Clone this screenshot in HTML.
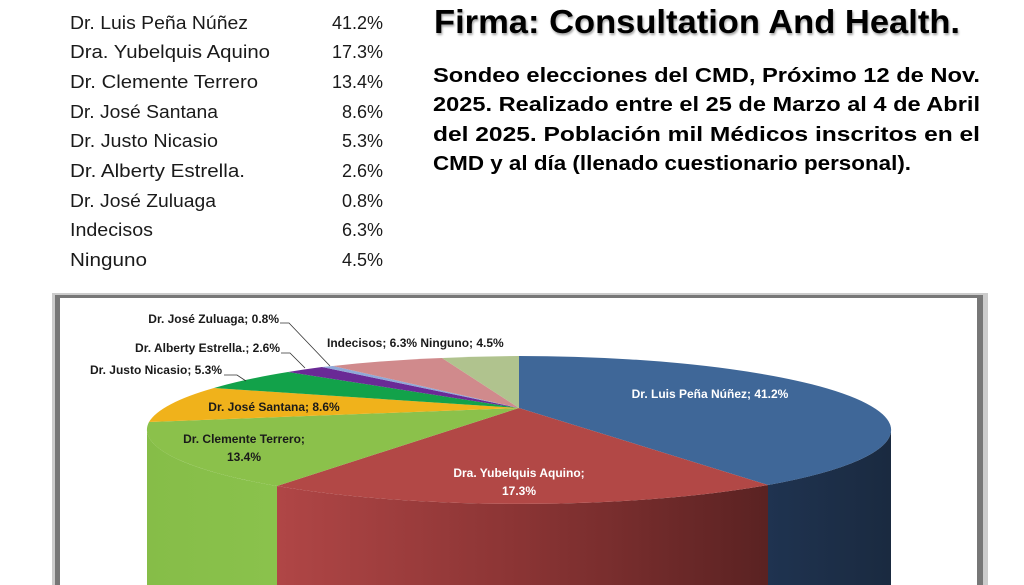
<!DOCTYPE html>
<html><head><meta charset="utf-8"><style>
html,body{margin:0;padding:0;background:#fff;width:1024px;height:585px;overflow:hidden;}
svg{display:block;overflow:hidden;}
text{font-family:"Liberation Sans",sans-serif;}
</style></head><body>
<svg width="1024" height="585" viewBox="0 0 1024 585" xmlns="http://www.w3.org/2000/svg">
<defs>
<clipPath id="cp"><rect x="0" y="0" width="1024" height="585"/></clipPath>
<linearGradient id="rg" x1="0" x2="1" y1="0" y2="0"><stop offset="0" stop-color="#b04646"/><stop offset="0.5" stop-color="#8a3434"/><stop offset="1" stop-color="#5a2222"/></linearGradient>
<linearGradient id="bg" x1="0" x2="1"><stop offset="0" stop-color="#1f3350"/><stop offset="1" stop-color="#1a2a40"/></linearGradient>
<linearGradient id="gg" x1="0" x2="1"><stop offset="0" stop-color="#86bd48"/><stop offset="1" stop-color="#8ac24c"/></linearGradient>
</defs>
<g font-size="18" fill="#1a1a1a">
<text x="70" y="29" textLength="178" lengthAdjust="spacingAndGlyphs">Dr. Luis Peña Núñez</text>
<text x="70" y="58" textLength="200" lengthAdjust="spacingAndGlyphs">Dra. Yubelquis Aquino</text>
<text x="70" y="88" textLength="188" lengthAdjust="spacingAndGlyphs">Dr. Clemente Terrero</text>
<text x="70" y="118" textLength="148" lengthAdjust="spacingAndGlyphs">Dr. José Santana</text>
<text x="70" y="147" textLength="148" lengthAdjust="spacingAndGlyphs">Dr. Justo Nicasio</text>
<text x="70" y="177" textLength="175" lengthAdjust="spacingAndGlyphs">Dr. Alberty Estrella.</text>
<text x="70" y="207" textLength="146" lengthAdjust="spacingAndGlyphs">Dr. José Zuluaga</text>
<text x="70" y="236" textLength="83" lengthAdjust="spacingAndGlyphs">Indecisos</text>
<text x="70" y="266" textLength="77" lengthAdjust="spacingAndGlyphs">Ninguno</text>
<g text-anchor="end">
<text x="383" y="29">41.2%</text><text x="383" y="58">17.3%</text><text x="383" y="88">13.4%</text>
<text x="383" y="118">8.6%</text><text x="383" y="147">5.3%</text><text x="383" y="177">2.6%</text>
<text x="383" y="207">0.8%</text><text x="383" y="236">6.3%</text><text x="383" y="266">4.5%</text>
</g></g>
<text x="434" y="33" font-size="33" font-weight="bold" fill="#000" textLength="526" lengthAdjust="spacingAndGlyphs" style="filter:drop-shadow(1px 2px 1px rgba(0,0,0,0.35))">Firma: Consultation And Health.</text>
<g font-size="20" font-weight="bold" fill="#000">
<text x="433" y="82" textLength="547" lengthAdjust="spacingAndGlyphs">Sondeo elecciones del CMD, Próximo 12 de Nov.</text>
<text x="433" y="111" textLength="547" lengthAdjust="spacingAndGlyphs">2025. Realizado entre el 25 de Marzo al 4 de Abril</text>
<text x="433" y="141" textLength="547" lengthAdjust="spacingAndGlyphs">del 2025. Población mil Médicos inscritos en el</text>
<text x="433" y="170" textLength="478" lengthAdjust="spacingAndGlyphs">CMD y al día (llenado cuestionario personal).</text>
</g>
<g clip-path="url(#cp)">
<rect x="52" y="293" width="936" height="292" fill="#9a9a9a" opacity="0.5"/>
<rect x="55" y="295" width="928" height="290" fill="#777"/>
<rect x="60" y="298" width="917" height="287" fill="#fff"/>
<path d="M891 430 A372 74 0 0 1 768 485 L768 585 L891 585 Z" fill="url(#bg)"/>
<path d="M768 485 A372 74 0 0 1 277 486 L277 585 L768 585 Z" fill="url(#rg)"/>
<path d="M277 486 A372 74 0 0 1 147 430 L147 585 L277 585 Z" fill="url(#gg)"/>
<path d="M519 408 L519 356 A372 74 0 0 1 768 485 Z" fill="#3f6798"/>
<path d="M519 408 L768 485 A372 74 0 0 1 277 486 Z" fill="#b24846"/>
<path d="M519 408 L277 486 A372 74 0 0 1 149 422 Z" fill="#8bc14b"/>
<path d="M519 408 L149 422 A372 74 0 0 1 214 388 Z" fill="#f0b21b"/>
<path d="M519 408 L214 388 A372 74 0 0 1 288 372 Z" fill="#12a24a"/>
<path d="M519 408 L288 372 A372 74 0 0 1 322 367 Z" fill="#6a2a96"/>
<path d="M519 408 L322 367 A372 74 0 0 1 333 366 Z" fill="#8fa8d8"/>
<path d="M519 408 L333 366 A372 74 0 0 1 442 358 Z" fill="#d08a8c"/>
<path d="M519 408 L442 358 A372 74 0 0 1 519 356 Z" fill="#b0c38e"/>
</g>
<g stroke="#333" stroke-width="0.8" fill="none">
<polyline points="224,375 237,375 246,381"/>
<polyline points="281,353 290,353 305,368"/>
<polyline points="280,323 289,323 330,366"/>
</g>
<g font-size="12" font-weight="bold">
<text x="710" y="398" fill="#fff" text-anchor="middle">Dr. Luis Peña Núñez; 41.2%</text>
<text x="519" y="477" fill="#fff" text-anchor="middle">Dra. Yubelquis Aquino;</text>
<text x="519" y="495" fill="#fff" text-anchor="middle">17.3%</text>
<text x="244" y="443" fill="#1a1a1a" text-anchor="middle">Dr. Clemente Terrero;</text>
<text x="244" y="461" fill="#1a1a1a" text-anchor="middle">13.4%</text>
<text x="274" y="411" fill="#1a1a1a" text-anchor="middle">Dr. José Santana; 8.6%</text>
<text x="222" y="374" fill="#1a1a1a" text-anchor="end">Dr. Justo Nicasio; 5.3%</text>
<text x="280" y="352" fill="#1a1a1a" text-anchor="end">Dr. Alberty Estrella.; 2.6%</text>
<text x="279" y="323" fill="#1a1a1a" text-anchor="end">Dr. José Zuluaga; 0.8%</text>
<text x="327" y="347" fill="#1a1a1a">Indecisos; 6.3% Ninguno; 4.5%</text>
</g>
</svg>
</body></html>
